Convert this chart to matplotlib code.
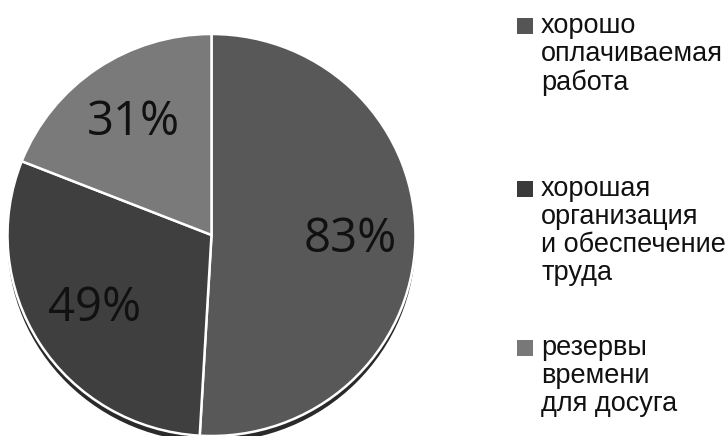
import matplotlib
matplotlib.use("Agg")
import matplotlib.pyplot as plt
from matplotlib.patches import Rectangle, Ellipse

# ---- data ----
categories = ["хорошо\nоплачиваемая\nработа",
              "хорошая\nорганизация\nи обеспечение\nтруда",
              "резервы\nвремени\nдля досуга"]
values = [83, 49, 31]
colors = ["#585858", "#3f3f3f", "#7a7a7a"]
legend_colors = ["#555555", "#3a3a3a", "#787878"]

W, H = 726, 437
fig = plt.figure(figsize=(W / 100, H / 100), dpi=100)
fig.patch.set_facecolor("white")

# pie axes placed in pixel geometry
cx, cy, rx, ry = 211.5, 235, 204, 201
ax = fig.add_axes([(cx - rx) / W, (H - cy - ry) / H, 2 * rx / W, 2 * ry / H])

total = sum(values)
# bottom rim (3D-ish edge)
ax.add_patch(Ellipse((0, -0.03), 2.0, 2.0, facecolor="#2a2a2a", edgecolor="none", zorder=0))

wedges, texts, autotexts = ax.pie(
    values, colors=colors, startangle=90, counterclock=False,
    autopct=lambda p: f"{round(p * total / 100)}%", pctdistance=0.68,
    wedgeprops=dict(edgecolor="white", linewidth=1.8),
    textprops=dict(fontsize=34, color="#111111", family="Open Sans"))
for w in wedges:
    w.set_zorder(1)
ax.set_aspect("auto")
ax.set_xlim(-1, 1)
ax.set_ylim(-1, 1)
ax.axis("off")

# ---- legend (manual) ----
tops = [26, 189, 348]  # y center of first line of each entry (px from top)
for lab, col, ty in zip(categories, legend_colors, tops):
    fig.patches.append(Rectangle((517 / W, (H - ty - 8) / H), 16 / W, 16 / H,
                                 transform=fig.transFigure, facecolor=col,
                                 edgecolor="none"))
    fig.text(541 / W, (H - ty + 13) / H, lab, ha="left", va="top",
             fontsize=19.5, family="Liberation Sans", color="#111111",
             linespacing=1.1)

fig.savefig("out.png", dpi=100, facecolor="white")
